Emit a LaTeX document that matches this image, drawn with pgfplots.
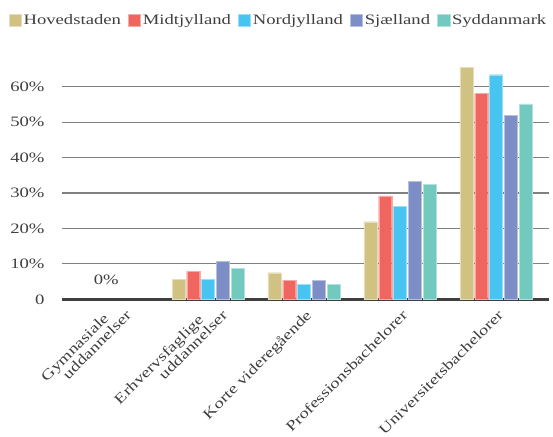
\documentclass[border=0pt]{standalone}
\usepackage{pgfplots}
\pgfplotsset{compat=1.18}
\usepackage{fontspec}
\setmainfont{Liberation Serif}[FakeStretch=1.3]
\definecolor{cHov}{HTML}{CFC283}
\definecolor{cMid}{HTML}{F0665F}
\definecolor{cNor}{HTML}{47C5F0}
\definecolor{cSja}{HTML}{7D8DC6}
\definecolor{cSyd}{HTML}{72C9C0}
\definecolor{txt}{HTML}{3F3F3F}
\begin{document}
\begin{tikzpicture}[font=\fontsize{14.4}{14}\selectfont]
\begin{axis}[
  scale only axis, width=487bp, height=233.8bp,
  ymin=0, ymax=66, xmin=-0.521, xmax=4.552,
  ybar=1.8bp, bar width=13bp,
  axis line style={draw=none},
  major tick length=0,
  /pgf/number format/assume math mode=true,
  ytick={10,20,...,60},
  yticklabels={10\%,20\%,30\%,40\%,50\%,60\%},
  extra y ticks={0}, extra y tick labels={0},
  extra y tick style={grid=major, major grid style={draw=txt, line width=2.4bp}},
  ymajorgrids, major grid style={draw=gray, line width=1.2bp},
  xtick={2,3,4},
  xticklabels={{Korte videregående},{Professionsbachelorer},{Universitetsbachelorer}},
  xticklabel style={rotate=45, anchor=north east, inner sep=0pt, text=txt, xshift=-6bp, yshift=-7.4bp},
  extra x ticks={0,1},
  extra x tick labels={{Gymnasiale\hspace*{18bp}\\uddannelser},{Erhvervsfaglige\hspace*{20bp}\\uddannelser}},
  extra x tick style={xticklabel style={align=right, xshift=8.3bp, yshift=5.2bp}},
  yticklabel style={text=txt, xshift=-14bp},
  legend style={draw=none, fill=none, legend columns=5, at={(0,0)}, anchor=center, xshift=216.5bp, yshift=279.3bp,
    /tikz/every even column/.append style={column sep=5bp}, text=txt,
    nodes={inner sep=2bp}},
  legend image code/.code={\fill[#1] (0bp,-6.25bp) rectangle (12.5bp,6.25bp);},
]
\addplot[fill=cHov, draw=cHov!55!white] coordinates {(1,5.6)(2,7.5)(3,21.9)(4,65.5)};
\addplot[fill=cMid, draw=cMid!55!white] coordinates {(1,7.9)(2,5.4)(3,29.2)(4,58.1)};
\addplot[fill=cNor, draw=cNor!55!white] coordinates {(1,5.6)(2,4.3)(3,26.2)(4,63.4)};
\addplot[fill=cSja, draw=cSja!55!white] coordinates {(1,10.8)(2,5.4)(3,33.3)(4,51.9)};
\addplot[fill=cSyd, draw=cSyd!55!white] coordinates {(1,8.8)(2,4.3)(3,32.4)(4,55.2)};
\legend{Hovedstaden,Midtjylland,Nordjylland,Sjælland,Syddanmark}
\node[text=txt] at (axis cs:-0.06,5.4) {0\%};
\coordinate (O) at (rel axis cs:0,0);
\end{axis}
\pgfresetboundingbox
\path (O) ++(-62bp,-137.7bp) rectangle ++(553bp,437bp);
\end{tikzpicture}
\end{document}
